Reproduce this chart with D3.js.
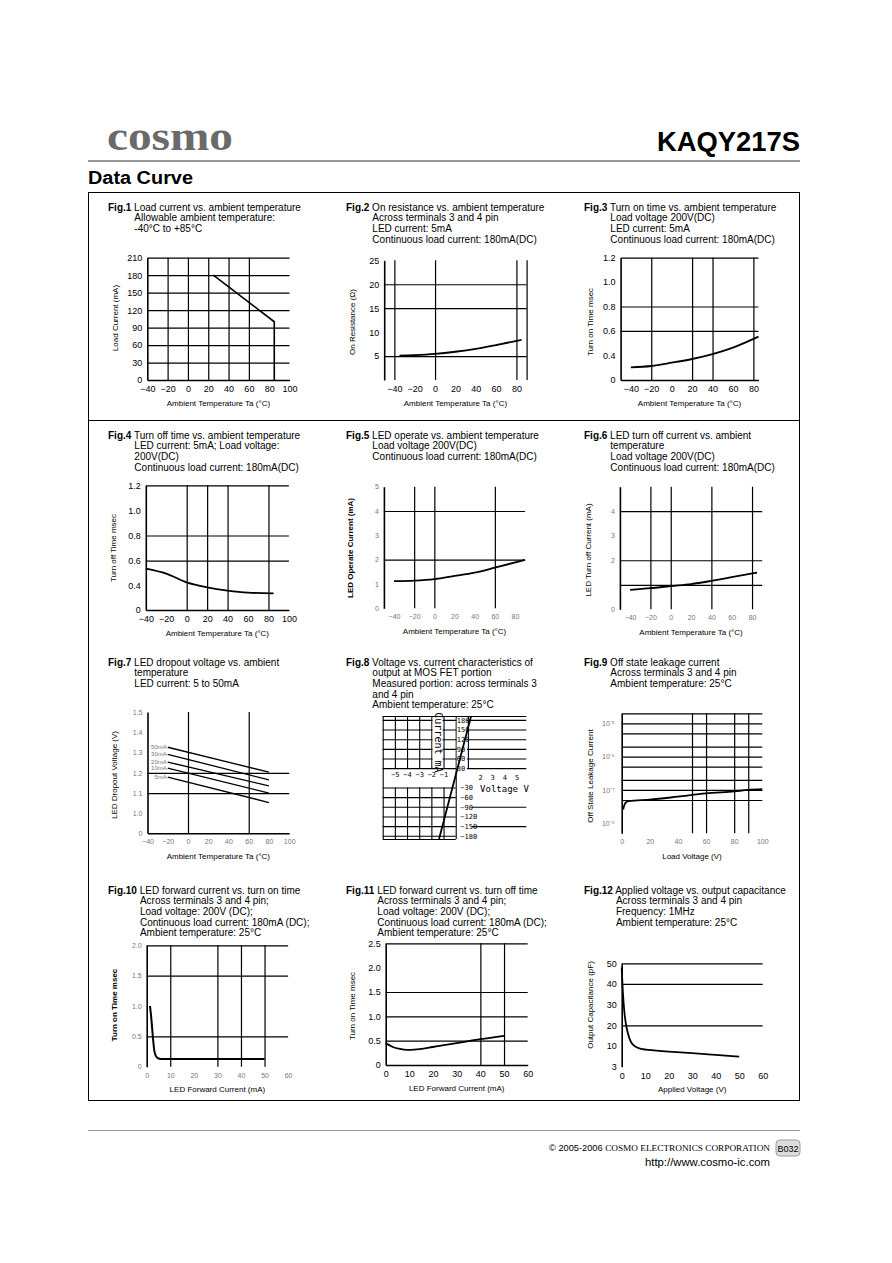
<!DOCTYPE html>
<html><head><meta charset="utf-8">
<script src="https://cdn.jsdelivr.net/npm/d3@7"></script>
<style>
body{margin:0;background:#fff;}
svg{display:block;}
</style></head><body>
<svg id="c" width="892" height="1263"></svg>
<script>
// ---------------- DATA ----------------
const fig1Temp = [25, 85, 85];
const fig1Current = [180, 100, 0];
const fig1XTicks = [-40,-20,0,20,40,60,80,100];
const fig1YTicks = [0,30,60,90,120,150,180,210];

const fig2Temp = [-35,-20,0,20,40,60,85];
const fig2Res = [5.1,5.2,5.45,5.9,6.5,7.3,8.4];
const fig2XTicks = [-40,-20,0,20,40,60,80];
const fig2YTicks = [5,10,15,20,25];

const fig3Temp = [-40,-20,0,20,40,60,85];
const fig3Time = [0.205,0.227,0.28,0.34,0.41,0.463,0.553];
const fig3XTicks = [-40,-20,0,20,40,60,80];
const fig3YTicks = [0,0.4,0.6,0.8,1.0,1.2];
const fig3YLabels = ["0","0.4","0.6","0.8","1.0","1.2"];

const fig4Temp = [-40,-20,0,20,40,60,85];
const fig4Time = [0.536,0.496,0.427,0.373,0.318,0.285,0.274];
const fig4XTicks = [-40,-20,0,20,40,60,80,100];
const fig4YTicks = [0,0.4,0.6,0.8,1.0,1.2];
const fig4YLabels = ["0","0.4","0.6","0.8","1.0","1.2"];

const fig5Temp = [-40,-20,0,20,40,60,90];
const fig5Current = [1.12,1.14,1.2,1.33,1.47,1.67,1.99];
const fig5XTicks = [-40,-20,0,20,40,60,80];
const fig5YTicks = [0,1,2,3,4,5];

const fig6Temp = [-40,-20,0,20,40,60,85];
const fig6Current = [0.79,0.86,0.95,1.03,1.16,1.31,1.5];
const fig6XTicks = [-40,-20,0,20,40,60,80];
const fig6YTicks = [0,2,3,4];

const fig7Temp = [-20, 80];
const fig7Series = ["50mA","30mA","20mA","10mA","5mA"];
const fig7V50 = [1.326,1.203];
const fig7V30 = [1.291,1.165];
const fig7V20 = [1.253,1.135];
const fig7V10 = [1.223,1.100];
const fig7V5  = [1.179,1.053];
const fig7XTicks = [-40,-20,0,20,40,60,80,100];
const fig7YTicks = [0,1.0,1.1,1.2,1.3,1.4,1.5];
const fig7YLabels = ["0","1.0","1.1","1.2","1.3","1.4","1.5"];

const fig8Voltage = [-1.37, 1.26];
const fig8Current = [-190, 191];
const fig8PosLabels = [180,150,120,90,60,30];
const fig8NegLabels = [-30,-60,-90,-120,-150,-180];
const fig8NegVoltTicks = [-5,-4,-3,-2,-1];
const fig8PosVoltTicks = [2,3,4,5];

const fig9Voltage = [1,2,3,5,20,40,60,80,90,100];
const fig9Leak = [2.6e-8,3.6e-8,4.2e-8,4.6e-8,5.1e-8,6.3e-8,7.9e-8,9.1e-8,1.0e-7,1.05e-7];
const fig9XTicks = [0,20,40,60,80,100];
const fig9YTicks = [1e-8,1e-7,1e-6,1e-5];
const fig9YLabels = ["10\u207B\u2078","10\u207B\u2077","10\u207B\u2076","10\u207B\u2075"];

const fig10Current = [1.4,2,2.6,3.2,4,5,7,50];
const fig10Time = [1.0,0.78,0.5,0.27,0.17,0.135,0.125,0.125];
const fig10XTicks = [0,10,20,30,40,50,60];
const fig10YTicks = [0,0.5,1.0,1.5,2.0];
const fig10YLabels = ["0","0.5","1.0","1.5","2.0"];

const fig11Current = [0,3,6,9,12,20,30,40,50];
const fig11Time = [0.45,0.37,0.33,0.31,0.315,0.37,0.45,0.53,0.6];
const fig11XTicks = [0,10,20,30,40,50,60];
const fig11YTicks = [0,0.5,1.0,1.5,2.0,2.5];
const fig11YLabels = ["0","0.5","1.0","1.5","2.0","2.5"];

const fig12Voltage = [0,0.3,0.7,1.3,2,3,4,5,7,10,20,30,40,50];
const fig12Cap = [48,40,32,24,19,14.5,11.5,10.3,9.2,8.7,8.1,7.6,7.0,6.4];
const fig12XTicks = [0,10,20,30,40,50,60];
const fig12YTicks = [3,10,20,30,40,50];

const titles = [
 ["Fig.1",["Load current vs. ambient temperature","Allowable ambient temperature:","-40°C to +85°C"]],
 ["Fig.2",["On resistance vs. ambient temperature","Across terminals 3 and 4 pin","LED current: 5mA","Continuous load current: 180mA(DC)"]],
 ["Fig.3",["Turn on time vs. ambient temperature","Load voltage 200V(DC)","LED current: 5mA","Continuous load current: 180mA(DC)"]],
 ["Fig.4",["Turn off time vs. ambient temperature","LED current: 5mA; Load voltage:","200V(DC)","Continuous load current: 180mA(DC)"]],
 ["Fig.5",["LED operate vs. ambient temperature","Load voltage 200V(DC)","Continuous load current: 180mA(DC)"]],
 ["Fig.6",["LED turn off current vs. ambient","temperature","Load voltage 200V(DC)","Continuous load current: 180mA(DC)"]],
 ["Fig.7",["LED dropout voltage vs. ambient","temperature","LED current: 5 to 50mA"]],
 ["Fig.8",["Voltage vs. current characteristics of","output at MOS FET portion","Measured portion: across terminals 3","and 4 pin","Ambient temperature: 25°C"]],
 ["Fig.9",["Off state leakage current","Across terminals 3 and 4 pin","Ambient temperature: 25°C"]],
 ["Fig.10",["LED forward current vs. turn on time","Across terminals 3 and 4 pin;","Load voltage: 200V (DC);","Continuous load current: 180mA (DC);","Ambient temperature: 25°C"]],
 ["Fig.11",["LED forward current vs. turn off time","Across terminals 3 and 4 pin;","Load voltage: 200V (DC);","Continuous load current: 180mA (DC);","Ambient temperature: 25°C"]],
 ["Fig.12",["Applied voltage vs. output capacitance","Across terminals 3 and 4 pin","Frequency: 1MHz","Ambient temperature: 25°C"]]
];

// ---------------- DRAW ----------------
const F = '"Liberation Sans", Arial, Helvetica, sans-serif';
const MONO = '"DejaVu Sans Mono", "Liberation Mono", monospace';
const svg = d3.select("#c").attr("font-family", F);
svg.append("rect").attr("width",892).attr("height",1263).attr("fill","#fff");

// header
svg.append("text").attr("x",107).attr("y",150).attr("font-family",'"Liberation Serif", "DejaVu Serif", serif')
  .attr("font-size",40).attr("font-weight","bold").attr("fill","#6a6a6a").attr("textLength",126).attr("lengthAdjust","spacingAndGlyphs").text("cosmo");
svg.append("text").attr("x",657).attr("y",151).attr("font-size",27).attr("font-weight","bold")
  .attr("textLength",143).attr("lengthAdjust","spacingAndGlyphs").text("KAQY217S");
svg.append("line").attr("x1",88).attr("x2",800).attr("y1",161).attr("y2",161).attr("stroke","#777").attr("stroke-width",1.6);
svg.append("text").attr("x",88).attr("y",184).attr("font-size",18).attr("font-weight","bold")
  .attr("textLength",105).attr("lengthAdjust","spacingAndGlyphs").text("Data Curve");
// outer box
svg.append("rect").attr("x",88.5).attr("y",192.5).attr("width",711).attr("height",908).attr("fill","none").attr("stroke","#000").attr("stroke-width",1);
svg.append("line").attr("x1",88).attr("x2",800).attr("y1",420.5).attr("y2",420.5).attr("stroke","#000").attr("stroke-width",1);

// footer
svg.append("line").attr("x1",88).attr("x2",800).attr("y1",1130.5).attr("y2",1130.5).attr("stroke","#999").attr("stroke-width",1);
const ft = svg.append("text").attr("x",549).attr("y",1151).attr("font-size",8.5).attr("textLength",221).attr("lengthAdjust","spacingAndGlyphs");
ft.append("tspan").text("© 2005-2006 ");
ft.append("tspan").attr("font-family",'"Liberation Serif", serif').text("COSMO ELECTRONICS CORPORATION");
svg.append("rect").attr("x",776).attr("y",1140).attr("width",24).attr("height",16).attr("rx",4).attr("fill","#ddd").attr("stroke","#999");
svg.append("text").attr("x",788).attr("y",1151.5).attr("text-anchor","middle").attr("font-size",9).text("B032");
svg.append("text").attr("x",645).attr("y",1166).attr("font-size",11).attr("textLength",125).attr("lengthAdjust","spacingAndGlyphs").text("http://www.cosmo-ic.com");

// titles
const colX = [108, 346, 584];
const rowY = [210.5, 438.5, 665.5, 893.5];
const LS = 10.7;
titles.forEach((t,i)=>{
  const cx = colX[i%3], cy = rowY[Math.floor(i/3)];
  const tx = svg.append("text").attr("x",cx).attr("y",cy).attr("font-size",10);
  const b = tx.append("tspan").attr("font-weight","bold").text(t[0]);
  const w = b.node().getComputedTextLength();
  tx.append("tspan").text(" " + t[1][0]);
  const indent = cx + w + 3;
  t[1].slice(1).forEach((s,j)=>{
    svg.append("text").attr("x",indent).attr("y",cy+LS*(j+1)).attr("font-size",10).text(s);
  });
});

function zip(a,b){ return a.map((v,i)=>[v,b[i]]); }

function panel(o){
  const g = svg.append("g");
  const xr = d3.extent(o.x.range()), yr = d3.extent(o.y.range());
  const W = xr[1]-xr[0], H = yr[1]-yr[0];
  const gw = 1.2;
  if (o.yGrid && o.yGrid.length) g.append("g").attr("transform",`translate(${xr[0]},0)`)
    .call(d3.axisRight(o.y).tickValues(o.yGrid).tickSize(W).tickSizeOuter(0).tickFormat(""))
    .call(a=>{a.select(".domain").remove(); a.selectAll("line").attr("stroke","#000").attr("stroke-width",gw);});
  if (o.xGrid && o.xGrid.length) g.append("g").attr("transform",`translate(0,${yr[0]})`)
    .call(d3.axisBottom(o.x).tickValues(o.xGrid).tickSize(H).tickSizeOuter(0).tickFormat(""))
    .call(a=>{a.select(".domain").remove(); a.selectAll("line").attr("stroke","#000").attr("stroke-width",gw);});
  const fs = o.faint ? 7 : 9;
  const col = o.faint ? "#777" : "#000";
  // left axis
  g.append("g").attr("transform",`translate(${xr[0]},0)`)
    .call(d3.axisLeft(o.y).tickValues(o.yTicks).tickSize(0).tickSizeOuter(0).tickPadding(o.yPad ?? 5)
      .tickFormat((d,i)=> o.yLabels ? o.yLabels[i] : d))
    .call(a=>{a.attr("font-family",F).attr("font-size",fs);
      a.select(".domain").attr("stroke","#000").attr("stroke-width",1.6);
      a.selectAll("text").attr("fill",col);});
  // bottom axis
  g.append("g").attr("transform",`translate(0,${yr[1]})`)
    .call(d3.axisBottom(o.x).tickValues(o.xTicks).tickSize(0).tickSizeOuter(0).tickPadding(o.xPad ?? 6))
    .call(a=>{a.attr("font-family",F).attr("font-size",fs);
      if(o.bottom) a.select(".domain").attr("stroke","#000").attr("stroke-width",1.4); else a.select(".domain").remove();
      a.selectAll("text").attr("fill",col);});
  // series
  const ln = d3.line().x(d=>o.x(d[0])).y(d=>o.y(d[1])).curve(o.curve || d3.curveMonotoneX);
  o.series.forEach(s=>{
    g.append("path").attr("d",ln(s)).attr("fill","none").attr("stroke","#000").attr("stroke-width",o.sw || 1.8);
  });
  // titles
  g.append("text").attr("x",(xr[0]+xr[1])/2 + (o.xtDx||0)).attr("y",yr[1]+ (o.xtDy||25.5)).attr("text-anchor","middle")
    .attr("font-size",8).text(o.xTitle);
  g.append("text").attr("transform",`translate(${o.ytX},${o.ytY}) rotate(-90)`).attr("text-anchor","middle")
    .attr("font-size",8).attr("font-weight",o.ytBold?"bold":"normal").text(o.yTitle);
  return g;
}

const TA = "Ambient Temperature Ta (°C)";

// Fig1
panel({x:d3.scaleLinear([-40,100],[147.3,289.5]), y:d3.scaleLinear([0,210],[380,257.7]),
  xGrid:[-20,0,20,40,60], yGrid:[30,60,90,120,150,180,210], bottom:true,
  xTicks:fig1XTicks, yTicks:fig1YTicks, series:[zip(fig1Temp,fig1Current)], curve:d3.curveLinear, sw:1.6,
  xTitle:TA, yTitle:"Load Current (mA)", ytX:118, ytY:318});
// Fig2
panel({x:d3.scaleLinear([-50,90],[384.2,526.6]), y:d3.scaleLinear([0,25],[380,260.3]),
  xGrid:[-40,0,80,90], yGrid:[5,15,20], bottom:false,
  xTicks:fig2XTicks, yTicks:fig2YTicks, series:[zip(fig2Temp,fig2Res)],
  xTitle:TA, yTitle:"On Resistance (\u03A9)", ytX:355, ytY:322});
// Fig3
panel({x:d3.scaleLinear([-50,85],[620.6,758.5]), y:d3.scaleLinear([0,0.4,1.2],[380,355.3,257.7]),
  xGrid:[-20,20,40,80], yGrid:[0.6,0.8,1.2], bottom:true,
  xTicks:fig3XTicks, yTicks:fig3YTicks, yLabels:fig3YLabels, series:[zip(fig3Temp,fig3Time)],
  xTitle:TA, yTitle:"Turn on Time msec", ytX:593, ytY:322});
// Fig4
panel({x:d3.scaleLinear([-40,100],[145.8,288.9]), y:d3.scaleLinear([0,0.4,1.2],[610,585.7,485.3]),
  xGrid:[0,20,40,80], yGrid:[0.6,0.8,1.2], bottom:true,
  xTicks:fig4XTicks, yTicks:fig4YTicks, yLabels:fig4YLabels, series:[zip(fig4Temp,fig4Time)],
  xTitle:TA, yTitle:"Turn off Time msec", ytX:116, ytY:548});
// Fig5
panel({x:d3.scaleLinear([-50,90],[383.9,525.1]), y:d3.scaleLinear([0,5],[608.3,486.7]),
  xGrid:[-20,0,60], yGrid:[2,4], bottom:false, faint:true,
  xTicks:fig5XTicks, yTicks:fig5YTicks, series:[zip(fig5Temp,fig5Current)],
  xTitle:TA, yTitle:"LED Operate Current (mA)", ytX:353, ytY:548, ytBold:true});
// Fig6
panel({x:d3.scaleLinear([-50,90],[619.9,762.2]), y:d3.scaleLinear([0,5],[609.3,486.7]),
  xGrid:[-20,0,40,80], yGrid:[1,2,4], bottom:false, faint:true,
  xTicks:fig6XTicks, yTicks:fig6YTicks, series:[zip(fig6Temp,fig6Current)],
  xTitle:TA, yTitle:"LED Turn off Current (mA)", ytX:591, ytY:550});
// Fig7
panel({x:d3.scaleLinear([-40,100],[147.5,289.2]), y:d3.scaleLinear([0,1.0,1.5],[833.3,813.3,712]),
  xGrid:[0,60], yGrid:[1.1,1.2], bottom:true, faint:true,
  xTicks:fig7XTicks, yTicks:fig7YTicks, yLabels:fig7YLabels,
  series:[zip(fig7Temp,fig7V50),zip(fig7Temp,fig7V30),zip(fig7Temp,fig7V20),zip(fig7Temp,fig7V10),zip(fig7Temp,fig7V5)],
  curve:d3.curveLinear, sw:1.3,
  xTitle:TA, yTitle:"LED Dropout Voltage (V)", ytX:117, ytY:775});
{
  const x7 = d3.scaleLinear([-40,100],[147.5,289.2]), y7 = d3.scaleLinear([0,1.0,1.5],[833.3,813.3,712]);
  [fig7V50,fig7V30,fig7V20,fig7V10,fig7V5].forEach((s,i)=>{
    svg.append("text").attr("x",x7(fig7Temp[0])-1).attr("y",y7(s[0])+2).attr("text-anchor","end")
      .attr("font-size",6).attr("fill","#777").text(fig7Series[i]);
  });
}
// Fig8 (custom quadrant grid)
{
  const x8 = d3.scaleLinear([-6,5.8],[382.7,526.3]);
  const y8 = d3.scaleLinear([-190,192],[839,716]);
  const g = svg.append("g");
  const L = x8(-6), R = x8(5.8), T = y8(192), B = y8(-190);
  const st = a=>{a.select(".domain").remove(); a.selectAll("line").attr("stroke","#000").attr("stroke-width",1.1);};
  const upperH = [192,180,150,120,90,60,30];
  const lowerH = [-30,-60,-90,-120,-150,-180,-190];
  const rightLowerH = [-90,-150];
  g.append("g").attr("transform",`translate(${L},0)`)
    .call(d3.axisRight(y8).tickValues(upperH).tickSize(R-L).tickFormat("")).call(st);
  g.append("g").attr("transform",`translate(${L},0)`)
    .call(d3.axisRight(y8).tickValues(lowerH).tickSize(x8(0)-L).tickFormat("")).call(st);
  g.append("g").attr("transform",`translate(${x8(1.3)},0)`)
    .call(d3.axisRight(y8).tickValues(rightLowerH).tickSize(R-x8(1.3)).tickFormat("")).call(st);
  // vertical lines
  g.append("g").attr("transform",`translate(0,${T})`)
    .call(d3.axisBottom(x8).tickValues([-5,-4,-3,-2,-1,1]).tickSize(y8(30)-T).tickFormat("")).call(st);
  g.append("g").attr("transform",`translate(0,${y8(-30)})`)
    .call(d3.axisBottom(x8).tickValues([-5,-4,-3,-2,-1]).tickSize(B-y8(-30)).tickFormat("")).call(st);
  g.append("g").attr("transform",`translate(0,${T})`)
    .call(d3.axisBottom(x8).tickValues([-6,0]).tickSize(B-T).tickFormat("")).call(st);
  // white box for vertical label
  g.append("rect").attr("x",x8(-1.9)).attr("y",T+2).attr("width",x8(-1)-x8(-1.9)-1).attr("height",y8(30)-T-4).attr("fill","#fff");
  g.append("text").attr("transform",`translate(${x8(-1.45)-3},${y8(110)}) rotate(90)`).attr("text-anchor","middle")
    .attr("font-family",MONO).attr("font-size",10).text("Current mA");
  // white column behind the positive labels
  g.append("rect").attr("x",x8(0)+1).attr("y",T+2).attr("width",x8(1)-x8(0)-2).attr("height",y8(30)-T+6).attr("fill","#fff");
  g.append("g").attr("transform",`translate(${x8(0)},0)`)
    .call(d3.axisRight(y8).tickValues(fig8PosLabels).tickSize(0).tickPadding(1))
    .call(a=>{a.select(".domain").remove(); a.attr("font-family",MONO).attr("font-size",7);});
  g.append("g").attr("transform",`translate(${x8(0.3)},0)`)
    .call(d3.axisRight(y8).tickValues(fig8NegLabels).tickSize(0).tickPadding(1))
    .call(a=>{a.select(".domain").remove(); a.attr("font-family",MONO).attr("font-size",7);});
  g.append("g").attr("transform",`translate(0,${y8(0)})`)
    .call(d3.axisTop(x8).tickValues(fig8NegVoltTicks).tickSize(0).tickPadding(1).tickFormat(d=>"\u2212"+(-d)))
    .call(a=>{a.select(".domain").remove(); a.attr("font-family",MONO).attr("font-size",7);});
  g.append("g").attr("transform",`translate(0,${y8(-10)})`)
    .call(d3.axisTop(x8).tickValues(fig8PosVoltTicks).tickSize(0).tickPadding(1))
    .call(a=>{a.select(".domain").remove(); a.attr("font-family",MONO).attr("font-size",7);});
  g.append("text").attr("x",x8(2)).attr("y",y8(-45)).attr("font-family",MONO).attr("font-size",9).text("Voltage V");
  const ln = d3.line().x(d=>x8(d[0])).y(d=>y8(d[1]));
  g.append("path").attr("d",ln(zip(fig8Voltage,fig8Current))).attr("fill","none").attr("stroke","#000").attr("stroke-width",1.8);
}
// Fig9
panel({x:d3.scaleLinear([0,100],[621.7,762.3]), y:d3.scaleLog([5e-9,2e-5],[833.3,713.3]),
  xGrid:[50,60,80,90], yGrid:[5e-8,1e-7,2e-7,5e-7,1e-6,2e-6,5e-6,1e-5,2e-5], bottom:false, faint:true,
  xTicks:fig9XTicks, yTicks:fig9YTicks, yLabels:fig9YLabels, yPad:7, series:[zip(fig9Voltage,fig9Leak)],
  xTitle:"Load Voltage (V)", yTitle:"Off State Leakage Current", ytX:593, ytY:776});
// Fig10
panel({x:d3.scaleLinear([0,60],[146.7,288.1]), y:d3.scaleLinear([0,2],[1066.7,945.3]),
  xGrid:[10,30,40,50], yGrid:[0.5,1.5,2.0], bottom:false, faint:true,
  xTicks:fig10XTicks, yTicks:fig10YTicks, yLabels:fig10YLabels, series:[zip(fig10Current,fig10Time)], sw:2,
  xTitle:"LED Forward Current (mA)", yTitle:"Turn on Time msec", ytX:117, ytY:1005, ytBold:true});
// Fig11
panel({x:d3.scaleLinear([0,60],[385.7,527.7]), y:d3.scaleLinear([0,2.5],[1065,943.3]),
  xGrid:[40,50], yGrid:[0.5,1.0,1.5,2.5], bottom:true,
  xTicks:fig11XTicks, yTicks:fig11YTicks, yLabels:fig11YLabels, series:[zip(fig11Current,fig11Time)],
  xTitle:"LED Forward Current (mA)", yTitle:"Turn on Time msec", ytX:355, ytY:1006});
// Fig12
panel({x:d3.scaleLinear([0,60],[621.7,762.7]), y:d3.scaleLinear([3,10,50],[1066.7,1046,963.3]),
  xGrid:[], yGrid:[20,40,50], bottom:false,
  xTicks:fig12XTicks, yTicks:fig12YTicks, series:[zip(fig12Voltage,fig12Cap)], curve:d3.curveBasis,
  xTitle:"Applied Voltage (V)", yTitle:"Output Capacitance (pF)", ytX:593, ytY:1005});
</script>
</body></html>
